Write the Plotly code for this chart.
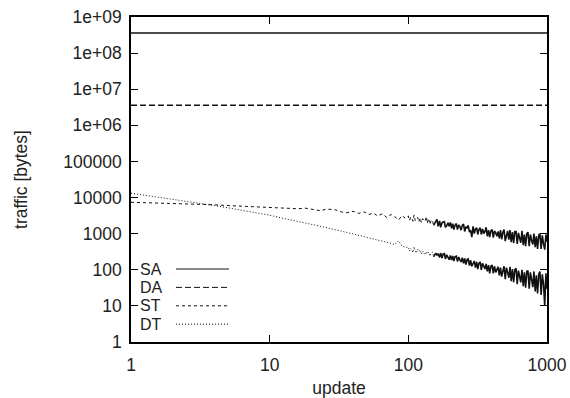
import plotly.graph_objects as go

# ---------------- data ----------------
series_names = ["SA", "DA", "ST", "DT"]

sa_update = [1, 1000]
sa_bytes = [3.6e8, 3.6e8]

da_update = [1, 1000]
da_bytes = [3.6e6, 3.6e6]

update = [
    1, 2, 3, 4, 5, 6, 7, 8, 9, 10,
    12, 14, 16, 18, 20,
    23, 26, 30,
    33, 36, 40, 44, 48,
    52, 56, 60, 65, 70,
    75, 80, 85, 90, 95,
    100, 102, 104, 106, 108, 110, 112, 114, 117, 119,
    122, 124, 127, 129, 132, 135, 137, 140, 143, 146,
    149, 152, 155, 158, 161, 164, 168, 171, 175, 178,
    182, 185, 189, 193, 197, 201, 205, 209, 213, 217,
    222, 226, 231, 235, 240, 245, 250, 255, 260, 265,
    270, 276, 281, 287, 293, 299, 305, 311, 317, 323,
    330, 336, 343, 350, 357, 364, 371, 379, 386, 394,
    402, 410, 418, 427, 435, 444, 453, 462, 471, 481,
    490, 500, 510, 520, 531, 541, 552, 563, 575, 586,
    598, 610, 622, 635, 647, 660, 674, 687, 701, 715,
    729, 744, 759, 774, 790, 805, 822, 838, 855, 872,
    889, 907, 925, 944, 963, 982, 1000,
]

st_bytes = [
    7400, 6900, 6600, 6300, 6000, 5800, 5600, 5500, 5400, 5250,
    5100, 5000, 4900, 5100, 4700,
    4350, 4800, 4550,
    4000, 3800, 4150, 3650, 4000,
    3400, 3700, 3100, 3550, 2800,
    3400, 2950, 2400, 3150, 2700,
    3100, 2300, 2900, 2600, 2200, 3300, 2300, 2700, 2800, 2100,
    2750, 2000, 2600, 2300, 2200, 3000, 1900, 2650, 1800, 2300,
    2400, 1700, 2000, 2300, 2500, 1600, 2250, 1500, 2000, 2100,
    2150, 1500, 1650, 2000, 1600, 2050, 1400, 1900, 1300, 1700,
    1900, 1300, 1750, 1600, 1250, 1700, 1850, 1150, 1550, 1400,
    1700, 1100, 1250, 800, 1600, 1000, 1350, 1450, 950, 1300,
    1450, 950, 1350, 1000, 1150, 1500, 850, 1250, 800, 1200,
    1300, 780, 1200, 1050, 850, 1150, 740, 1250, 700, 1100,
    1300, 620, 900, 1200, 680, 1250, 580, 1100, 550, 1150,
    1150, 520, 1050, 800, 560, 1200, 480, 950, 450, 1000,
    1100, 450, 950, 650, 500, 1000, 420, 850, 380, 900,
    1000, 380, 900, 520, 360, 950, 600,
]

dt_bytes = [
    13200, 9100, 7200, 6000, 5200, 4600, 4150, 3800, 3450, 3250,
    2750, 2450, 2200, 2000, 1820,
    1620, 1450, 1300,
    1180, 1080, 980, 900, 830,
    760, 710, 660, 620, 580,
    540, 500, 630, 450, 420,
    420, 330, 390, 360, 300, 430, 340, 290, 370, 320,
    350, 270, 330, 300, 260, 320, 280, 310, 240, 290,
    310, 230, 260, 290, 250, 280, 220, 290, 210, 270,
    280, 200, 260, 220, 190, 250, 185, 240, 175, 230,
    240, 170, 225, 190, 165, 215, 150, 205, 140, 190,
    200, 130, 185, 125, 150, 175, 115, 165, 105, 150,
    165, 100, 150, 120, 105, 145, 90, 135, 80, 125,
    135, 80, 125, 85, 100, 120, 70, 115, 65, 105,
    125, 55, 115, 85, 60, 120, 48, 105, 45, 100,
    110, 40, 95, 65, 45, 100, 35, 85, 32, 90,
    95, 30, 85, 55, 33, 90, 25, 70, 22, 75,
    90, 20, 75, 40, 10, 80, 30,
]

x_tick_vals = [1, 10, 100, 1000]
x_tick_text = ["1", "10", "100", "1000"]
y_tick_vals = [1, 10, 100, 1000, 1e4, 1e5, 1e6, 1e7, 1e8, 1e9]
y_tick_text = ["1", "10", "100", "1000", "10000", "100000",
               "1e+06", "1e+07", "1e+08", "1e+09"]

assert len(update) == len(st_bytes) == len(dt_bytes)

# ---------------- styling ----------------
W, H = 570, 398
ML, MT, MR, MB = 131, 17, 23, 56          # plot area x 131..547, y 17..342
LINE_COLOR = "#111111"
TEXT_COLOR = "#222222"
FS = 17.5
LEGEND_FS = 16
dashes = {"SA": "solid", "DA": "6px,3px", "ST": "3px,3px", "DT": "1px,2px"}
widths = {"SA": 1.4, "DA": 1.3, "ST": 1, "DT": 1}
FONT = "Liberation Sans, Arial, Helvetica, sans-serif"
DENSE_FROM = 150   # beyond this update the noisy samples merge into a dense band

fig = go.Figure()
data_by_name = {
    "SA": (sa_update, sa_bytes),
    "DA": (da_update, da_bytes),
    "ST": (update, st_bytes),
    "DT": (update, dt_bytes),
}
for name in series_names:
    xs, ys = data_by_name[name]
    if name in ("ST", "DT"):
        k = next(i for i, v in enumerate(xs) if v >= DENSE_FROM)
        parts = [(xs[:k + 1], ys[:k + 1], dashes[name], widths[name]),
                 (xs[k:], ys[k:], "solid", 1.6)]
    else:
        parts = [(xs, ys, dashes[name], widths[name])]
    for px_, py_, dsh, lw in parts:
        fig.add_trace(go.Scatter(
            x=px_, y=py_, mode="lines", name=name, showlegend=False,
            line=dict(color=LINE_COLOR, width=lw, dash=dsh),
        ))

# custom gnuplot-like legend: label on the left, line sample on the right
plot_w = W - ML - MR
plot_h = H - MT - MB
for i, name in enumerate(series_names):
    y_px = 269 + i * 18.4            # row on the page
    y_p = (H - MB - y_px) / plot_h
    fig.add_annotation(
        xref="paper", yref="paper", x=(139 - ML) / plot_w, y=y_p,
        text=name, showarrow=False, xanchor="left", yanchor="middle",
        height=17, borderpad=0,
        font=dict(family=FONT, size=LEGEND_FS, color=TEXT_COLOR),
    )
    fig.add_shape(
        type="line", xref="paper", yref="paper",
        x0=(176 - ML) / plot_w, x1=(229 - ML) / plot_w,
        y0=y_p, y1=y_p,
        line=dict(color=LINE_COLOR, width=1, dash=dashes[name]),
    )

axis_common = dict(
    type="log", showline=True, linecolor="black", linewidth=1.5,
    mirror="ticks", ticks="inside", ticklen=7, tickcolor="black",
    tickwidth=1, showgrid=False, zeroline=False, automargin=False,
    ticklabeloverflow="allow",
    tickfont=dict(family=FONT, size=FS, color=TEXT_COLOR),
)

fig.update_layout(
    width=W, height=H,
    margin=dict(l=ML, r=MR, t=MT, b=MB, autoexpand=False),
    paper_bgcolor="white", plot_bgcolor="white",
    font=dict(family=FONT, size=FS, color=TEXT_COLOR),
    xaxis=dict(
        axis_common, range=[0, 3], tickvals=x_tick_vals, ticktext=x_tick_text,
        ticklabelstandoff=6,
        title=dict(text="update", standoff=12,
                   font=dict(family=FONT, size=FS, color=TEXT_COLOR)),
    ),
    yaxis=dict(
        axis_common, range=[0, 9], tickvals=y_tick_vals, ticktext=y_tick_text,
        ticklabelstandoff=4,
        title=dict(text="traffic [bytes]", standoff=31,
                   font=dict(family=FONT, size=FS, color=TEXT_COLOR)),
    ),
)

# the page is photographed from its top-left corner: drop the default body margin
fig.write_html("out.html", config={"displayModeBar": False},
               post_script="document.body.style.margin='0';")
